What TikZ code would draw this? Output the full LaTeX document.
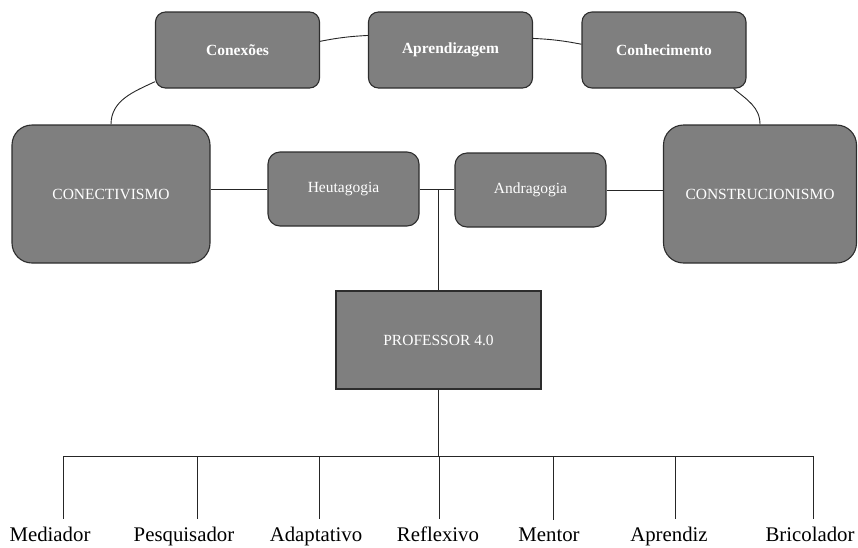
\documentclass[tikz,border=0pt]{standalone}
\usepackage{fontspec}
\setmainfont{Liberation Serif}
\usetikzlibrary{calc}
\definecolor{cinzacaixa}{RGB}{127,127,127}
\definecolor{bordacaixa}{RGB}{45,45,45}
\tikzset{
  caixa/.style={draw=bordacaixa,line width=1.1pt,fill=cinzacaixa,text=white,
    font=\fontsize{15.5}{18}\selectfont,align=center},
  topo/.style={caixa,rounded corners=10pt,minimum width=164pt,minimum height=76pt,
    font=\fontsize{15.5}{18}\selectfont\bfseries},
  teoria/.style={caixa,rounded corners=20pt,minimum height=138pt},
  meio/.style={caixa,rounded corners=12pt,minimum width=151pt,minimum height=74pt},
  linha/.style={draw=black!85,line width=0.9pt},
  rotulo/.style={anchor=base,inner sep=0pt,font=\fontsize{20.8}{24}\selectfont}
}
\begin{document}
\begin{tikzpicture}[x=1pt,y=-1pt]
  \useasboundingbox (0,0) rectangle (858,547);

  % top row
  \node[topo] (conex) at (237.5,50) {Conexões};
  \node[topo] (aprend) at (450.5,50) {Aprendizagem};
  \node[topo] (conhec) at (664,50) {Conhecimento};

  % middle row
  \node[teoria,minimum width=198pt] (conect) at (111,194) {CONECTIVISMO};
  \node[meio] (heut) at (343.5,189) {Heutagogia};
  \node[meio] (andr) at (530.5,190) {Andragogia};
  \node[teoria,minimum width=193pt] (constr) at (760,194) {CONSTRUCIONISMO};

  \node[caixa,minimum width=205pt,minimum height=98pt] (prof) at (438.5,340) {PROFESSOR 4.0};

  % arc over the top
  \draw[linha] (conex.201) to[out=205,in=90] (conect.north);
  \draw[linha] (conex.6) to[bend left=4] (aprend.170);
  \draw[linha] (aprend.8) to[bend left=4] (conhec.176);
  \draw[linha] (conhec.-29) to[out=-40,in=90] (constr.north);

  % middle links
  \draw[linha] (heut.west -| conect.east) -- (heut.west);
  \draw[linha] (heut.east) -- (heut.east -| andr.west);
  \draw[linha] (andr.east) -- (andr.east -| constr.west);
  \draw[linha] (prof.north |- heut.east) -- (prof.north);

  % roles
  \foreach \x/\lx/\txt [count=\i] in {63/50/Mediador,197/184/Pesquisador,
      319/316/Adaptativo,439/438/Reflexivo,553/549/Mentor,675/669/Aprendiz,
      813/810/Bricolador}{
    \node[rotulo] (r\i) at (\lx,541) {\txt};
    \coordinate (d\i) at (\x,456);
    \draw[linha] (d\i) -- ([yshift=7pt]d\i |- r\i.north);
  }
  \draw[linha] (d1) -- (d7);
  \draw[linha] (prof.south) -- (prof.south |- d4);
\end{tikzpicture}
\end{document}
